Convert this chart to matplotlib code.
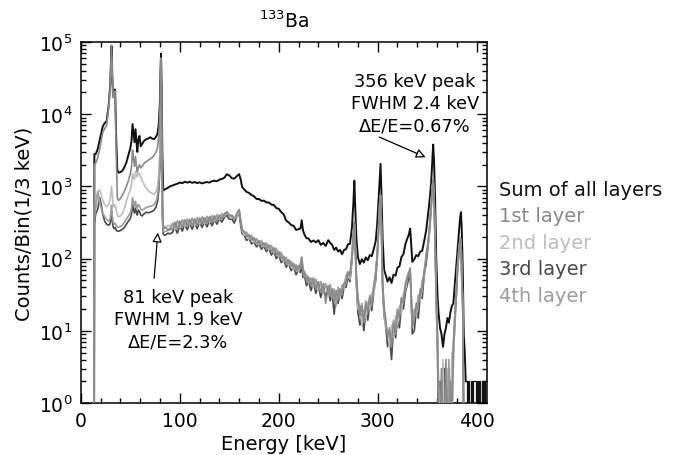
import matplotlib
matplotlib.use("Agg")
import matplotlib.pyplot as plt
from matplotlib.ticker import MultipleLocator, LogLocator, NullFormatter

plt.rcParams['font.family'] = ['DejaVu Sans']

# ---------------- data ----------------
energy_keV = [
    13.3, 13.6, 15, 17, 19, 20.5, 22, 24, 26, 28,
    29.5, 30.4, 31.0, 31.7, 32.5, 33.6, 34.6, 35.6, 36.8, 38,
    40, 42, 44, 46, 48, 50, 51.2, 52.2, 53.2, 54.2,
    55.2, 56.2, 57, 58, 59.2, 60.5, 62, 64, 66, 68,
    70, 72, 74, 76, 77.5, 78.8, 79.8, 80.5, 81.0, 81.6,
    82.3, 83.2, 84.5, 86, 88, 90,
    # 92.5 - 270
    92.5, 95, 97.5, 100, 102.5, 105, 107.5, 110, 112.5, 115,
    117.5, 120, 122.5, 125, 127.5, 130, 132.5, 135, 137.5, 140,
    142.5, 145, 147.5, 150, 152.5, 155, 157.5, 160, 161.5, 163,
    165, 167.5, 170, 172.5, 175, 177.5, 180, 182.5, 185, 187.5,
    190, 192.5, 195, 197.5, 200, 202.5, 205, 207.5, 210, 212.5,
    215, 217.5, 220, 222, 223.2, 224.5, 226, 228, 230, 232.5,
    235, 237.5, 240, 242.5, 245, 247.5, 250, 252, 254, 256,
    258, 260, 262, 264, 266, 268, 270,
    # 272 - 389
    272, 274, 275.5, 276.4, 277.3, 278.5, 280, 282, 284, 286,
    288, 290, 292, 294, 296, 298, 299.5, 301, 302.1, 302.9,
    303.7, 305, 306.5, 308, 310, 312, 314, 316, 318, 320,
    322, 324, 326, 328, 330, 331.5, 332.8, 333.8, 335, 337,
    339, 341, 343, 345, 347, 349, 351, 352.5, 354, 355.2,
    356.1, 357, 358, 359.2, 360.5, 361.5, 363, 364.5, 366, 367.5,
    369, 370.5, 372, 373.5, 375, 376.5, 378, 379.5, 381, 382.5,
    383.4, 384.2, 385, 386, 387, 388, 389,
]

sum_counts = [
    0.1, 2800, 2800, 3300, 4400, 5500, 6700, 7500, 8000, 13000,
    24000, 55000, 88000, 35000, 18000, 20000, 22000, 5000, 1700, 1550,
    1580, 1650, 1850, 2150, 2700, 3400, 4300, 7300, 5500, 4100,
    6200, 4200, 3000, 4400, 5000, 3600, 3900, 4300, 4500, 4600,
    4800, 4600, 4500, 4900, 5400, 7500, 14000, 42000, 69000, 25000,
    3000, 880, 900, 920, 960, 1000,
    1030, 1060, 1090, 1130, 1110, 1160, 1130, 1160, 1120, 1150,
    1110, 1140, 1100, 1130, 1150, 1130, 1180, 1200, 1180, 1240,
    1270, 1320, 1470, 1420, 1300, 1280, 1380, 1480, 1250, 980,
    910, 840, 810, 760, 730, 670, 670, 630, 635, 600,
    600, 560, 555, 500, 490, 440, 410, 335, 318, 292,
    285, 250, 255, 262, 340, 245, 215, 192, 190, 170,
    178, 168, 180, 155, 165, 150, 180, 165, 155, 132,
    142, 125, 132, 115, 132, 135, 158,
    160, 270, 620, 1200, 520, 190, 105, 84, 98, 88,
    104, 95, 112, 108, 135, 175, 300, 720, 1400, 2050,
    900, 190, 70, 60, 48, 55, 46, 60, 58, 75,
    78, 105, 115, 158, 190, 215, 260, 165, 90, 98,
    112, 108, 125, 128, 175, 245, 420, 650, 1100, 2300,
    3800, 2200, 700, 100, 30, 18, 11, 9, 6, 9,
    11, 15, 13, 18, 22, 24, 45, 80, 150, 270,
    380, 440, 250, 70, 9, 5, 2,
]

layer1_counts = [
    0.1, 2000, 2100, 2500, 3300, 4300, 5500, 6300, 7000, 12000,
    23000, 55000, 90000, 34000, 17000, 19000, 21000, 3500, 700, 640,
    680, 760, 860, 1000, 1200, 1500, 1900, 3200, 2400, 1900,
    2600, 1900, 1600, 1800, 2000, 1800, 1900, 2100, 2200, 2300,
    2400, 2500, 2700, 3000, 3500, 5000, 10000, 35000, 60000, 20000,
    1500, 280, 260, 270, 250, 265,
    250, 320, 260, 330, 270, 345, 285, 350, 280, 355,
    290, 365, 300, 370, 310, 380, 320, 390, 330, 400,
    350, 420, 440, 390, 400, 340, 420, 470, 320, 250,
    240, 200, 215, 180, 195, 160, 178, 150, 165, 138,
    155, 125, 142, 112, 125, 100, 108, 85, 96, 78,
    86, 68, 80, 72, 105, 62, 66, 48, 56, 42,
    54, 38, 48, 34, 45, 24, 42, 30, 38, 26,
    36, 27, 38, 32, 46, 44, 64,
    58, 110, 230, 320, 170, 55, 26, 16, 22, 13,
    24, 18, 29, 22, 40, 62, 110, 300, 600, 750,
    320, 45, 20, 15, 8, 10, 6, 13, 9, 19,
    15, 28, 24, 44, 52, 62, 72, 35, 11, 14,
    24, 20, 38, 34, 70, 95, 170, 280, 550, 1000,
    1250, 700, 200, 30, 8, 0.4, 0.4, 3, 0.4, 0.4,
    4, 0.4, 0.4, 2, 0.4, 6, 16, 35, 90, 150,
    190, 180, 60, 25, 0.4, 0.4, 0.4,
]

layer2_counts = [
    0.1, 500, 700, 800, 900, 780, 650, 560, 520, 560,
    650, 850, 1000, 750, 560, 520, 560, 480, 400, 380,
    390, 420, 500, 620, 760, 900, 1100, 1500, 1300, 1250,
    1600, 1450, 1350, 1550, 1500, 1350, 1200, 1050, 950, 880,
    830, 800, 780, 850, 1000, 1500, 3000, 9000, 14000, 5000,
    600, 290, 280, 275, 290, 280,
    300, 255, 320, 270, 335, 280, 345, 290, 350, 285,
    360, 300, 365, 305, 375, 315, 385, 325, 395, 345,
    410, 380, 430, 410, 360, 385, 370, 455, 340, 245,
    210, 225, 185, 205, 168, 185, 155, 172, 145, 160,
    132, 148, 120, 135, 105, 118, 90, 100, 80, 90,
    70, 80, 66, 86, 95, 72, 56, 58, 46, 52,
    40, 50, 36, 46, 33, 44, 31, 42, 30, 36,
    25, 38, 29, 42, 38, 56, 58,
    52, 105, 215, 300, 160, 50, 20, 22, 12, 19,
    15, 25, 20, 33, 30, 58, 105, 280, 560, 700,
    300, 42, 18, 11, 10, 6, 12, 8, 16, 12,
    22, 17, 33, 36, 55, 66, 68, 32, 13, 19,
    16, 30, 26, 48, 56, 115, 155, 265, 520, 950,
    1180, 660, 190, 28, 6, 2, 0.4, 0.4, 4, 0.4,
    0.4, 3, 0.4, 0.4, 5, 3, 14, 38, 85, 140,
    180, 170, 55, 22, 0.4, 0.4, 0.4,
]

layer3_counts = [
    0.1, 300, 420, 480, 700, 560, 420, 330, 300, 290,
    300, 380, 450, 340, 280, 260, 270, 250, 240, 240,
    245, 255, 270, 300, 330, 360, 420, 560, 470, 430,
    500, 430, 400, 470, 450, 400, 390, 420, 440, 430,
    440, 450, 470, 520, 620, 900, 1800, 5000, 8000, 3000,
    400, 220, 210, 215, 225, 220,
    230, 270, 225, 285, 240, 300, 250, 305, 255, 310,
    260, 320, 270, 325, 275, 335, 285, 345, 300, 355,
    320, 370, 400, 350, 355, 310, 375, 420, 290, 220,
    210, 178, 190, 160, 170, 145, 158, 135, 148, 125,
    138, 112, 126, 100, 112, 88, 96, 76, 86, 68,
    76, 60, 70, 64, 90, 55, 58, 42, 50, 36,
    46, 33, 42, 29, 40, 30, 37, 26, 33, 17,
    31, 24, 33, 28, 40, 40, 56,
    48, 95, 200, 280, 150, 45, 18, 12, 17, 10,
    19, 14, 24, 19, 35, 50, 98, 260, 520, 650,
    280, 38, 16, 12, 6, 8, 4, 11, 8, 14,
    11, 22, 20, 34, 44, 55, 60, 30, 9, 10,
    19, 15, 30, 28, 60, 85, 150, 250, 480, 900,
    1100, 620, 175, 25, 5, 0.4, 2, 0.4, 0.4, 3,
    0.4, 0.4, 3, 0.4, 3, 5, 12, 30, 80, 130,
    170, 160, 50, 20, 0.4, 0.4, 0.4,
]

layer4_counts = [
    0.1, 350, 500, 850, 620, 500, 430, 380, 350, 330,
    350, 450, 550, 400, 320, 300, 310, 290, 275, 270,
    280, 290, 320, 350, 390, 430, 500, 700, 600, 520,
    620, 540, 500, 560, 540, 480, 470, 490, 510, 520,
    530, 540, 560, 620, 750, 1100, 2200, 6000, 9000, 3500,
    450, 240, 235, 240, 245, 250,
    310, 265, 335, 280, 345, 295, 355, 300, 365, 305,
    370, 315, 380, 320, 385, 330, 395, 340, 405, 355,
    420, 390, 445, 400, 395, 350, 410, 480, 345, 260,
    228, 232, 195, 210, 175, 190, 160, 178, 150, 165,
    138, 152, 125, 140, 110, 122, 94, 104, 84, 92,
    74, 82, 70, 88, 104, 76, 60, 60, 48, 54,
    42, 52, 38, 48, 35, 45, 32, 44, 28, 38,
    22, 40, 31, 43, 42, 58, 66,
    60, 115, 235, 330, 175, 58, 30, 19, 24, 14,
    26, 20, 31, 26, 42, 66, 115, 310, 610, 760,
    330, 48, 21, 13, 9, 11, 7, 14, 10, 20,
    16, 29, 26, 46, 58, 64, 74, 36, 12, 20,
    17, 31, 29, 50, 60, 118, 175, 290, 560, 1020,
    1280, 720, 205, 32, 9, 1.5, 0.4, 0.4, 0.4, 0.4,
    2, 0.4, 4, 0.4, 0.4, 7, 17, 36, 95, 155,
    195, 185, 62, 26, 0.4, 0.4, 0.4,
]

tail_energy = [389.5, 390.8, 392.0, 393.3, 394.5, 395.8, 397.0, 398.3, 399.5, 400.8,
               402.0, 403.3, 404.5, 405.8, 407.0, 408.3, 409.5, 410.5]
tail_sum = [2, 1, 2, 1, 2, 1, 2, 2, 1, 2, 1, 2, 1, 2, 1, 2, 1, 2]

series_labels = ["Sum of all layers", "1st layer", "2nd layer", "3rd layer", "4th layer"]
series_colors = ["#111111", "#8a8a8a", "#bdbdbd", "#4a4a4a", "#9c9c9c"]

# ---------------- figure ----------------
fig = plt.figure(figsize=(6.73, 4.56), dpi=100)
ax = fig.add_axes([80.9 / 673, 1 - 404 / 456, (487 - 80.9) / 673, (404 - 43) / 456])

ax.plot(energy_keV, sum_counts, color=series_colors[0], lw=1.4, zorder=2)
ax.plot(tail_energy, tail_sum, color=series_colors[0], lw=0.9, drawstyle='steps-mid', zorder=2)
ax.plot(energy_keV, layer3_counts, color=series_colors[3], lw=1.2, zorder=3)
ax.plot(energy_keV, layer2_counts, color=series_colors[2], lw=1.2, zorder=3)
ax.plot(energy_keV, layer4_counts, color=series_colors[4], lw=1.2, zorder=3)
ax.plot(energy_keV, layer1_counts, color=series_colors[1], lw=1.2, zorder=3)

ax.set_yscale('log')
ax.set_xlim(0, 410.5)
ax.set_ylim(1, 1e5)

ax.xaxis.set_major_locator(MultipleLocator(100))
ax.xaxis.set_minor_locator(MultipleLocator(20))
ax.yaxis.set_major_locator(LogLocator(base=10, numticks=10))
ax.yaxis.set_minor_locator(LogLocator(base=10, subs=range(2, 10), numticks=20))
ax.yaxis.set_minor_formatter(NullFormatter())
ax.tick_params(which='both', direction='in', top=True, right=True, width=1.0)
ax.tick_params(which='major', length=7, labelsize=13.5, pad=6)
ax.tick_params(which='minor', length=3.5)
for s in ax.spines.values():
    s.set_linewidth(1.1)

ax.set_xlabel("Energy [keV]", fontsize=14, labelpad=3)
ax.set_ylabel("Counts/Bin(1/3 keV)", fontsize=14, labelpad=4)
ax.set_title(r"$\mathregular{^{133}}$Ba", fontsize=13.5, pad=11)

ax.text(337.7, 14300, "356 keV peak\nFWHM 2.4 keV\nΔE/E=0.67%", ha='center', va='center',
        fontsize=12.8, linespacing=1.3)
ax.annotate("", xy=(351, 2450), xytext=(299, 5000),
            arrowprops=dict(arrowstyle='-|>', fc='white', ec='black', lw=0.9, mutation_scale=14))

ax.text(98.1, 14.6, "81 keV peak\nFWHM 1.9 keV\nΔE/E=2.3%", ha='center', va='center',
        fontsize=12.8, linespacing=1.3)
ax.annotate("", xy=(78.0, 250), xytext=(73.8, 49),
            arrowprops=dict(arrowstyle='-|>', fc='white', ec='black', lw=0.9, mutation_scale=14))

legend_y = [190, 216.7, 243.3, 270, 296.7]
for lab, col, yp in zip(series_labels, series_colors, legend_y):
    fig.text(499 / 673, 1 - yp / 456, lab, color=col, fontsize=14, ha='left', va='center')

fig.savefig("out.png", dpi=100)
